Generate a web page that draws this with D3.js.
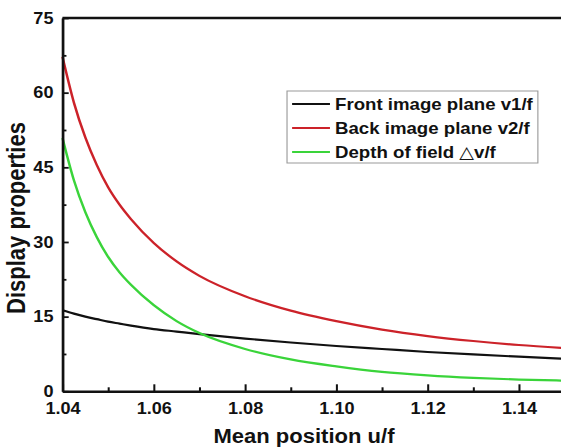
<!DOCTYPE html>
<html>
<head>
<meta charset="utf-8">
<script src="https://cdn.jsdelivr.net/npm/d3@7"></script>
<style>
  html, body { margin: 0; padding: 0; background: #fff; }
  svg { display: block; }
  text { font-family: "Liberation Sans", Arial, sans-serif; font-weight: bold; fill: #111; }
</style>
</head>
<body>
<svg></svg>
<script>
// values
const uValues = [1.04, 1.0425, 1.045, 1.0475, 1.05, 1.0525, 1.055, 1.06, 1.065, 1.07,
                 1.08, 1.09, 1.10, 1.11, 1.12, 1.13, 1.14, 1.15]
const frontPlane = [16.3, 15.6, 15.0, 14.5, 14.0, 13.6, 13.2, 12.5, 12.0, 11.5,
                    10.6, 9.8, 9.1, 8.5, 7.9, 7.4, 6.95, 6.55]
const backPlane = [67.2, 58.0, 51.0, 45.5, 41.0, 37.5, 34.6, 29.8, 26.1, 23.2,
                   19.1, 16.2, 14.1, 12.4, 11.1, 10.1, 9.3, 8.7]
const depthField = [50.9, 42.4, 36.0, 31.0, 27.0, 23.9, 21.4, 17.3, 14.1, 11.7,
                    8.5, 6.4, 5.0, 3.9, 3.2, 2.7, 2.35, 2.15]

const seriesNames = ["Front image plane v1/f", "Back image plane v2/f", "Depth of field "]
const seriesColors = ["#111111", "#cc2229", "#3ad43a"]

const xMajor = [1.04, 1.06, 1.08, 1.10, 1.12, 1.14]
const xMinor = [1.05, 1.07, 1.09, 1.11, 1.13, 1.15]
const yMajor = [0, 15, 30, 45, 60, 75]
const yMinor = [7.5, 22.5, 37.5, 52.5, 67.5]

const width = 561
const height = 448
const stretch = 1.13   // the picture is a bit wider than tall, so draw in narrow units and stretch

const svg = d3.select("svg").attr("width", width).attr("height", height)
const root = svg.append("g").attr("transform", "scale(" + stretch + ",1)")

const xScale = d3.scaleLinear().domain([1.04, 1.15]).range([55.3, 499.6])
const yScale = d3.scaleLinear().domain([0, 75]).range([391.3, 18])

// curves
const allSeries = [frontPlane, backPlane, depthField]
const line = d3.line()
  .x((d, i) => xScale(uValues[i]))
  .y(d => yScale(d))
  .curve(d3.curveMonotoneX)

root.selectAll("path.curve")
  .data(allSeries)
  .enter()
  .append("path")
  .attr("class", "curve")
  .attr("d", d => line(d))
  .attr("fill", "none")
  .attr("stroke", (d, i) => seriesColors[i])
  .attr("stroke-width", 2.2)

// axes
let xAxis = d3.axisBottom(xScale).tickValues(xMajor).tickSizeInner(-7).tickSizeOuter(0)
  .tickPadding(11).tickFormat(d3.format(".2f"))
let xAxisMinor = d3.axisBottom(xScale).tickValues(xMinor).tickSizeInner(-4).tickSizeOuter(0).tickFormat("")
let yAxis = d3.axisLeft(yScale).tickValues(yMajor).tickSizeInner(-5.5).tickSizeOuter(0).tickPadding(8)
let yAxisMinor = d3.axisLeft(yScale).tickValues(yMinor).tickSizeInner(-3.5).tickSizeOuter(0).tickFormat("")

let bottom = yScale.range()[0]
let left = xScale.range()[0]

root.append("g").attr("transform", "translate(0," + bottom + ")").call(xAxisMinor)
  .call(g => g.select(".domain").remove())
root.append("g").attr("transform", "translate(" + left + ",0)").call(yAxisMinor)
  .call(g => g.select(".domain").remove())

root.append("g").attr("id", "x-axis")
  .attr("transform", "translate(0," + bottom + ")").call(xAxis)
root.append("g").attr("id", "y-axis")
  .attr("transform", "translate(" + left + ",0)").call(yAxis)

root.selectAll(".tick line").attr("stroke", "#111").attr("stroke-width", 1.8)
root.selectAll(".domain").attr("stroke", "#111").attr("stroke-width", 2.4)
root.selectAll(".tick text").style("font-size", "16px").attr("fill", "#111")

// top and right frame
root.append("line")
  .attr("x1", xScale.range()[0]).attr("x2", xScale.range()[1])
  .attr("y1", yScale.range()[1]).attr("y2", yScale.range()[1])
  .attr("stroke", "#111").attr("stroke-width", 2.4)
root.append("line")
  .attr("x1", xScale.range()[1]).attr("x2", xScale.range()[1])
  .attr("y1", yScale.range()[1]).attr("y2", bottom)
  .attr("stroke", "#111").attr("stroke-width", 2.4)

// axis titles
root.append("text")
  .attr("x", 269).attr("y", 443)
  .attr("text-anchor", "middle")
  .style("font-size", "19.5px")
  .text("Mean position u/f")

root.append("text")
  .attr("transform", "translate(22,218) rotate(-90)")
  .attr("text-anchor", "middle")
  .style("font-size", "22px")
  .text("Display properties")

// legend
let legend = root.append("g").attr("transform", "translate(254,91)")
legend.append("rect")
  .attr("width", 222).attr("height", 72)
  .attr("fill", "#fff").attr("stroke", "#999").attr("stroke-width", 1)

let rows = legend.selectAll("g.row")
  .data(seriesNames)
  .enter()
  .append("g")
  .attr("class", "row")
  .attr("transform", (d, i) => "translate(0," + (13 + i * 24) + ")")

rows.append("line")
  .attr("x1", 4.5).attr("x2", 38)
  .attr("stroke", (d, i) => seriesColors[i])
  .attr("stroke-width", 2.2)

let labels = rows.append("text")
  .attr("x", 42.5).attr("dy", "0.36em")
  .style("font-size", "16.5px")
  .text(d => d)

// the delta in the last entry is a thin outlined triangle
labels.filter((d, i) => i === 2)
  .append("tspan")
  .style("font-weight", "normal")
  .style("font-family", "DejaVu Sans")
  .style("font-size", "17px")
  .text("\u25B3")
labels.filter((d, i) => i === 2)
  .append("tspan")
  .text("v/f")
</script>
</body>
</html>
